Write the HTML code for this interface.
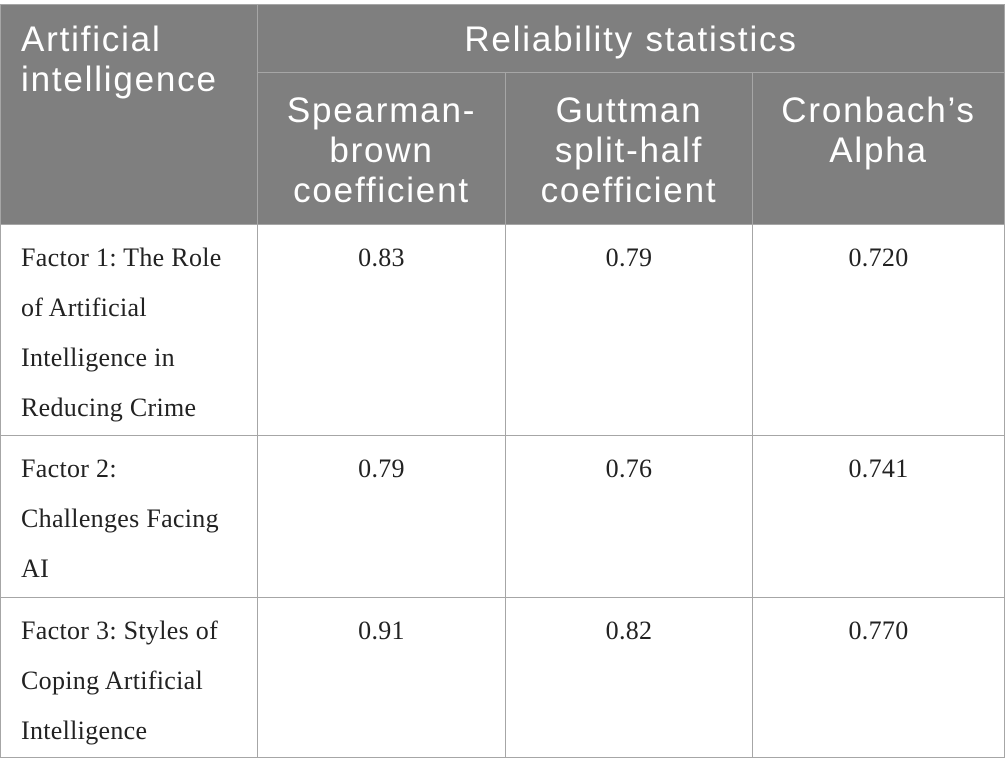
<!DOCTYPE html>
<html><head><meta charset="utf-8"><style>
body{margin:0;width:1005px;height:777px;background:#fff;position:relative;overflow:hidden}
.c{position:absolute;box-sizing:border-box;border:1px solid #a6a6a6}
.h{background:#7f7f7f;color:#fff;font-family:"Liberation Sans",sans-serif;font-size:35px;line-height:40px;letter-spacing:1.8px}
.b{font-family:"Liberation Serif",serif;font-size:26px;line-height:50px;color:#222;letter-spacing:0.3px}
.ctr{text-align:center}
</style></head><body>
<div class="c h" style="left:0;top:4px;width:258px;height:221px;padding:15px 0 0 20px;line-height:40px">Artificial<br>intelligence</div>
<div class="c h ctr" style="left:257px;top:4px;width:748px;height:69px;padding-top:15px">Reliability statistics</div>
<div class="c h ctr" style="left:257px;top:72px;width:249px;height:153px;padding-top:18px">Spearman-<br>brown<br>coefficient</div>
<div class="c h ctr" style="left:505px;top:72px;width:248px;height:153px;padding-top:18px">Guttman<br>split-half<br>coefficient</div>
<div class="c h ctr" style="left:752px;top:72px;width:253px;height:153px;padding-top:18px">Cronbach’s<br>Alpha</div>

<div class="c b" style="left:0;top:224px;width:258px;height:212px;padding:8px 0 0 20px">Factor 1: The Role<br>of Artificial<br>Intelligence in<br>Reducing Crime</div>
<div class="c b ctr" style="left:257px;top:224px;width:249px;height:212px;padding-top:8px">0.83</div>
<div class="c b ctr" style="left:505px;top:224px;width:248px;height:212px;padding-top:8px">0.79</div>
<div class="c b ctr" style="left:752px;top:224px;width:253px;height:212px;padding-top:8px">0.720</div>

<div class="c b" style="left:0;top:435px;width:258px;height:163px;padding:8px 0 0 20px">Factor 2:<br>Challenges Facing<br>AI</div>
<div class="c b ctr" style="left:257px;top:435px;width:249px;height:163px;padding-top:8px">0.79</div>
<div class="c b ctr" style="left:505px;top:435px;width:248px;height:163px;padding-top:8px">0.76</div>
<div class="c b ctr" style="left:752px;top:435px;width:253px;height:163px;padding-top:8px">0.741</div>

<div class="c b" style="left:0;top:597px;width:258px;height:161px;padding:8px 0 0 20px">Factor 3: Styles of<br>Coping Artificial<br>Intelligence</div>
<div class="c b ctr" style="left:257px;top:597px;width:249px;height:161px;padding-top:8px">0.91</div>
<div class="c b ctr" style="left:505px;top:597px;width:248px;height:161px;padding-top:8px">0.82</div>
<div class="c b ctr" style="left:752px;top:597px;width:253px;height:161px;padding-top:8px">0.770</div>
</body></html>
